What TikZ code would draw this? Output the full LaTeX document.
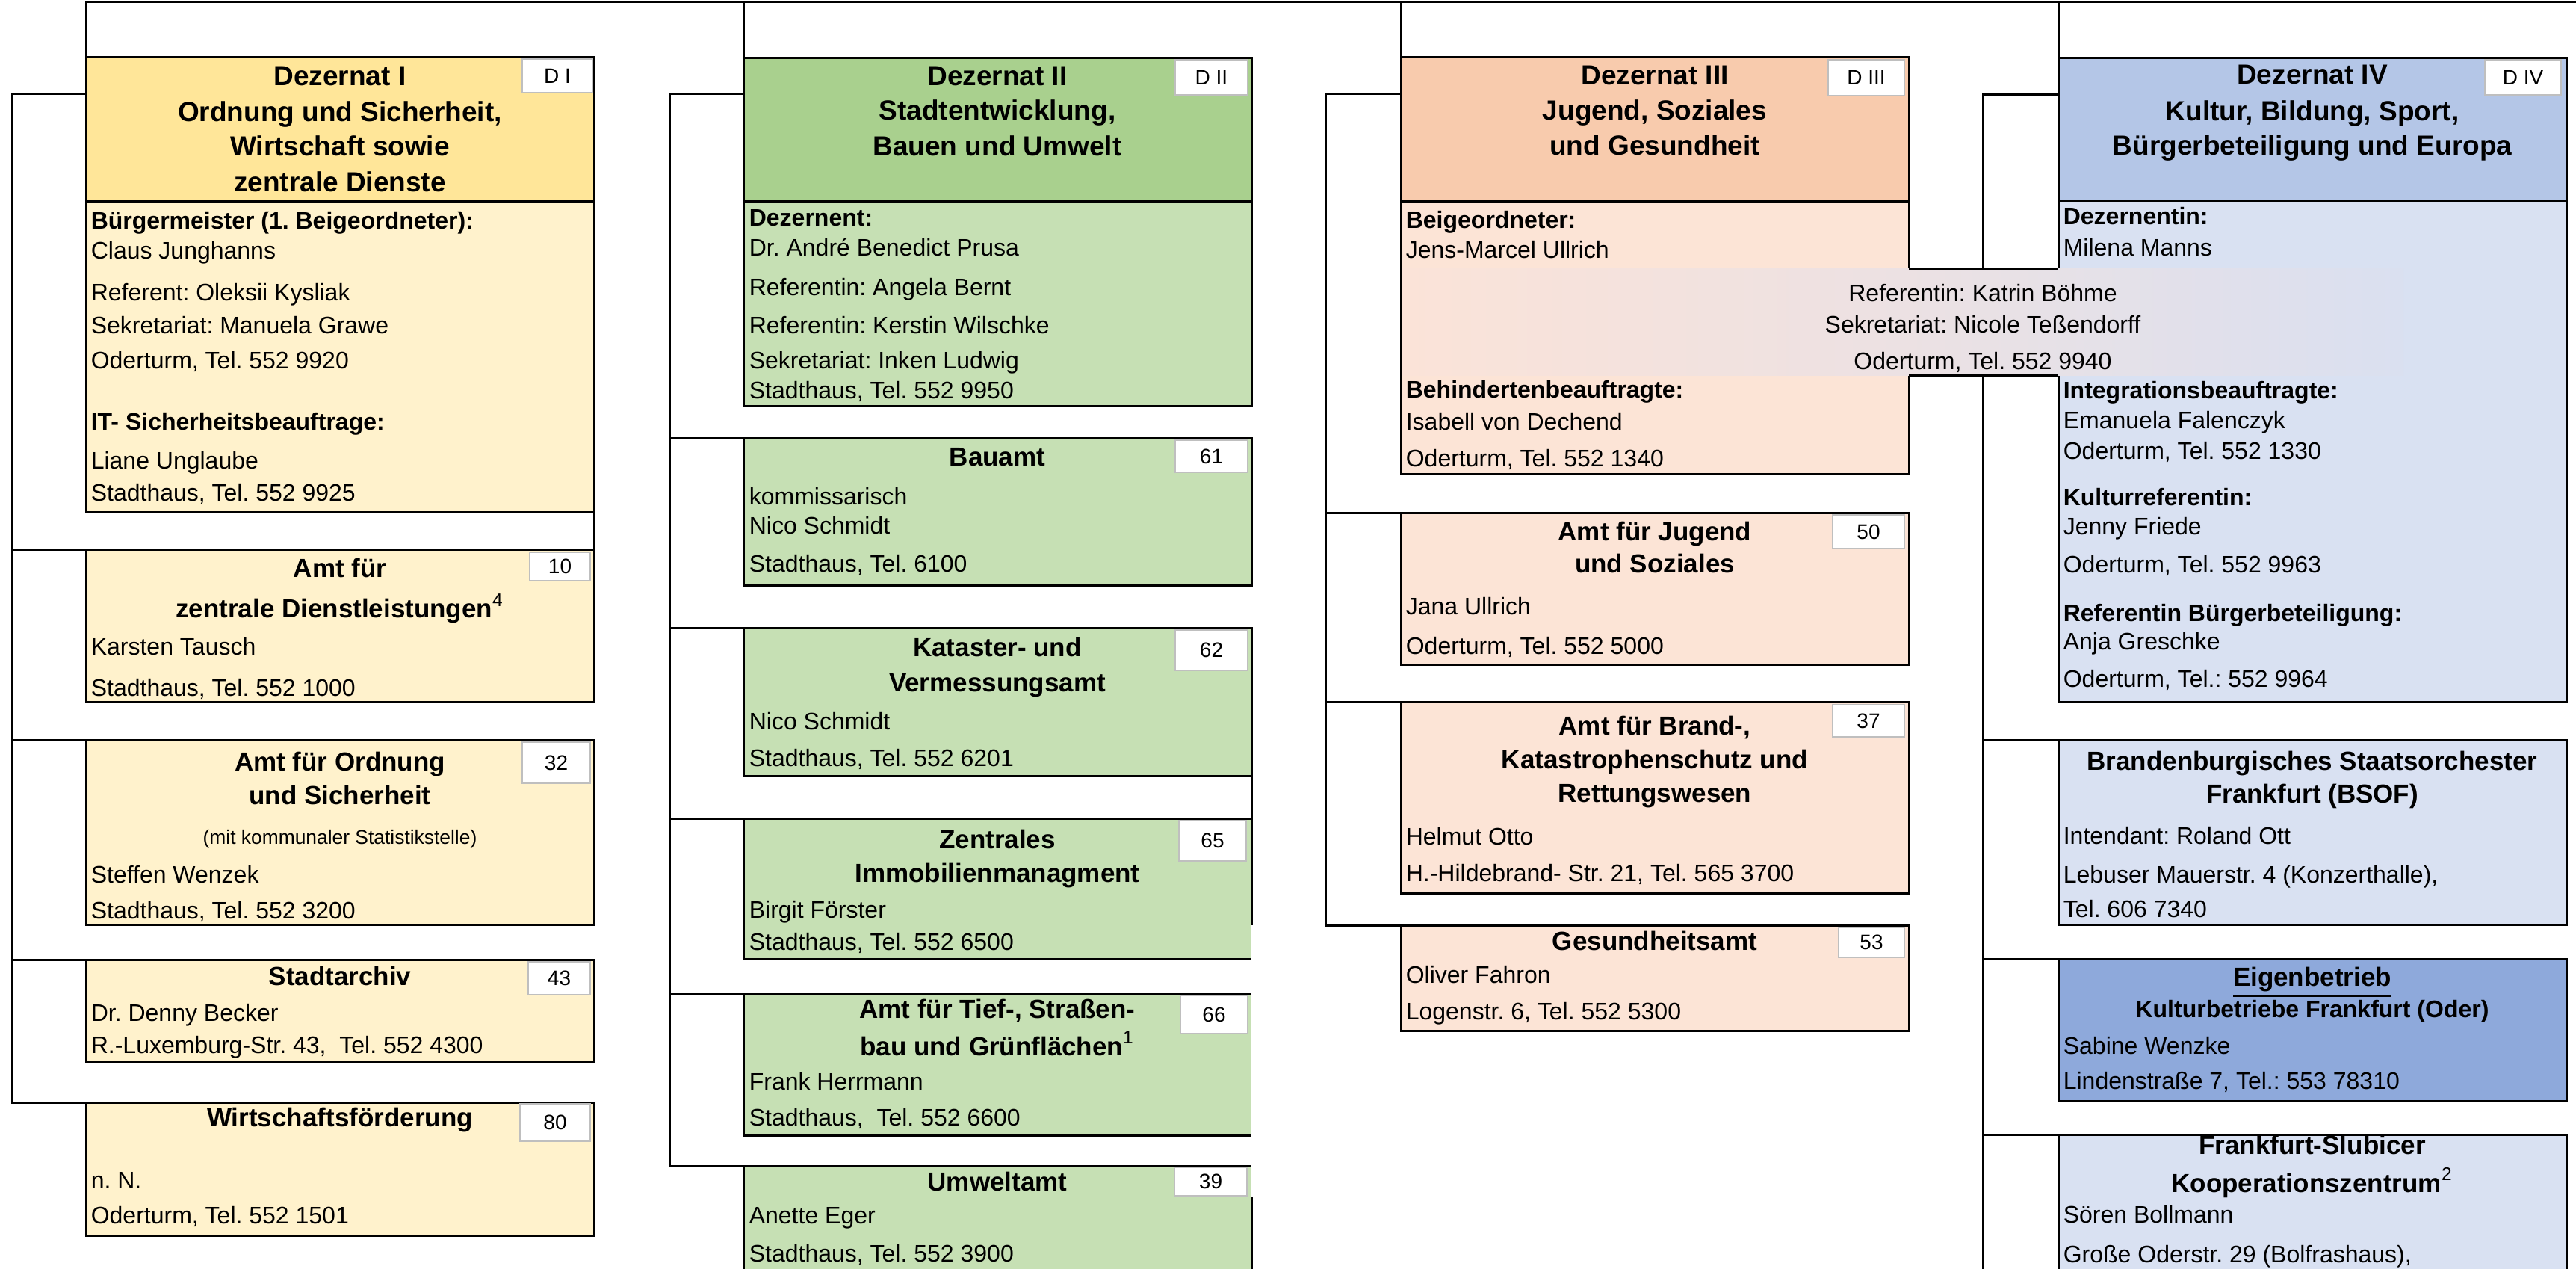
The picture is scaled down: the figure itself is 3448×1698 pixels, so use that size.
\documentclass[tikz,border=0pt]{standalone}
\usepackage{fontspec}
\setmainfont{Liberation Sans}
\frenchspacing
\definecolor{c1h}{HTML}{FFE699}
\definecolor{c1b}{HTML}{FFF2CC}
\definecolor{c2h}{HTML}{A9D08E}
\definecolor{c2b}{HTML}{C6E0B4}
\definecolor{c3h}{HTML}{F8CBAD}
\definecolor{c3b}{HTML}{FCE4D6}
\definecolor{c4h}{HTML}{B4C6E7}
\definecolor{c4b}{HTML}{D9E1F2}
\definecolor{c4e}{HTML}{8EA9DB}
\definecolor{bandL}{HTML}{FBE3D8}
\definecolor{bandM}{HTML}{ECE1E3}
\definecolor{bandR}{HTML}{DAE0F0}
\definecolor{lblgray}{HTML}{BFBFBF}
\tikzset{
  conn/.style={line width=0.75pt},
  boxf/.style={draw=black,line width=0.75pt,inner sep=0pt,outer sep=0pt,anchor=north west},
  lbl/.style={draw=lblgray,line width=0.4pt,fill=white,inner sep=0pt,outer sep=0pt,anchor=north west,font=\fontsize{7}{8}\selectfont},
  tl/.style={anchor=base west,inner sep=0pt,font=\fontsize{8}{9.6}\selectfont},
  tlb/.style={anchor=base west,inner sep=0pt,font=\fontsize{8}{9.6}\selectfont\bfseries},
  tc/.style={anchor=base,inner sep=0pt,font=\fontsize{8}{9.6}\selectfont},
  tcb/.style={anchor=base,inner sep=0pt,font=\fontsize{8}{9.6}\selectfont\bfseries},
  hd/.style={anchor=base,inner sep=0pt,font=\fontsize{9.25}{11}\selectfont\bfseries},
  ah/.style={anchor=base,inner sep=0pt,font=\fontsize{8.75}{10.5}\selectfont\bfseries},
  sm/.style={anchor=base,inner sep=0pt,font=\fontsize{6.6}{8}\selectfont},
}
\newcommand\bx[7][]{\node[boxf,fill=#7,minimum width={(#5-#3)*0.25pt},minimum height={(#6-#4)*0.25pt},#1] (#2) at (#3,#4) {};}
\newcommand\lb[6]{\node[lbl,minimum width={(#4-#2)*0.25pt},minimum height={(#5-#3)*0.25pt}] (#1) at (#2,#3) {#6};}
\begin{document}
\begin{tikzpicture}[x=0.25pt,y=-0.25pt]
\clip (0,0) rectangle (3448,1698);
\fill[white] (0,0) rectangle (3448,1698);
% ---------- boxes column 1
\bx{d1h}{115}{77}{795}{270}{c1h}
\bx{d1b}{115}{270}{795}{686}{c1b}
\bx{a10}{115}{736}{795}{940}{c1b}
\bx{a32}{115}{991}{795}{1238}{c1b}
\bx{a43}{115}{1285}{795}{1421}{c1b}
\bx{a80}{115}{1475}{795}{1653}{c1b}
% ---------- boxes column 2
\bx{d2h}{995}{78}{1675}{270}{c2h}
\bx{d2b}{995}{270}{1675}{544}{c2b}
\bx{a61}{995}{587}{1675}{784}{c2b}
\bx{a62}{995}{841}{1675}{1039}{c2b}
\bx[draw=none]{a65}{995}{1096}{1675}{1284}{c2b}
\bx[draw=none]{a66}{995}{1330}{1675}{1519}{c2b}
\bx[draw=none]{a39}{995}{1560}{1675}{1720}{c2b}
% ---------- boxes column 3
\bx{d3h}{1875}{77}{2555}{270}{c3h}
\bx{d3b}{1875}{270}{2555}{635}{c3b}
\bx{a50}{1875}{687}{2555}{890}{c3b}
\bx{a37}{1875}{940}{2555}{1196}{c3b}
\bx{a53}{1875}{1239}{2555}{1379}{c3b}
% ---------- boxes column 4
\bx{d4h}{2755}{78}{3435}{269}{c4h}
\bx{d4b}{2755}{269}{3435}{940}{c4b}
\bx{bsof}{2755}{991}{3435}{1238}{c4b}
\bx{eig}{2755}{1284}{3435}{1473}{c4e}
\bx{fsk}{2755}{1518}{3435}{1720}{c4b}
% ---------- connectors
\coordinate (top) at (3460,3);
\draw[conn] (d1h.north west) -- (d1h.north west |- top) -- (top);
\foreach \n in {d2h,d3h,d4h} \draw[conn] (\n.north west) -- (\n.north west |- top);
% column 1
\coordinate (b1) at (16,126);
\draw[conn] (d1h.north west |- b1) -- (b1) |- (a80.north west);
\foreach \n in {a10,a32,a43} \draw[conn] (\n.north west -| b1) -- (\n.north west);
\draw[conn] (d1b.south east) -- (a10.north east);
% column 2
\coordinate (b2) at (896,126);
\draw[conn] (d2h.north west |- b2) -- (b2) |- (a39.north west);
\foreach \n in {a61,a62,a65,a66} \draw[conn] (\n.north west -| b2) -- (\n.north west);
\draw[conn] (a62.south east) -- (a65.north east);
\draw[conn] (a65.north east) -- (a65.north west) -- (a65.south west) -- (a65.south east);
\draw[conn] (a65.north east) -- ++(0,142);
\draw[conn] (a66.north east) -- (a66.north west) -- (a66.south west) -- (a66.south east);
\draw[conn] (a39.south west) -- (a39.north west) -- (a39.north east);
\draw[conn] (a39.south east) -- ++(0,-119);
% column 3
\coordinate (b3) at (1774,126);
\draw[conn] (d3h.north west |- b3) -- (b3) |- (a53.north west);
\foreach \n in {a50,a37} \draw[conn] (\n.north west -| b3) -- (\n.north west);
% column 4
\coordinate (b4) at (2654,127);
\coordinate (bot) at (2654,1720);
\draw[conn] (d4h.north west |- b4) -- (b4) -- (bot);
\foreach \n in {bsof,eig,fsk} \draw[conn] (\n.north west -| b4) -- (\n.north west);
% ---------- labels
\lb{l1}{699}{79}{793}{124}{D I}
\lb{l10}{709}{739}{790}{777}{10}
\lb{l32}{699}{993}{790}{1048}{32}
\lb{l43}{707}{1287}{790}{1331}{43}
\lb{l80}{696}{1477}{790}{1527}{80}
\lb{l2}{1573}{80}{1670}{127}{D II}
\lb{l61}{1573}{589}{1670}{632}{61}
\lb{l62}{1573}{843}{1670}{897}{62}
\lb{l65}{1578}{1098}{1668}{1152}{65}
\lb{l66}{1580}{1332}{1670}{1383}{66}
\lb{l39}{1572}{1562}{1669}{1600}{39}
\lb{l3}{2447}{80}{2549}{128}{D III}
\lb{l50}{2453}{689}{2549}{734}{50}
\lb{l37}{2453}{943}{2549}{986}{37}
\lb{l53}{2461}{1241}{2549}{1281}{53}
\lb{l4}{3326}{80}{3428}{127}{D IV}
% ---------- shared band (Referentin / Sekretariat)
\node[inner sep=0pt,outer sep=0pt,anchor=north west,minimum width={1340*0.25pt},minimum height={143*0.25pt},left color=bandL,right color=bandR,middle color=bandM] (band) at (1877,360) {};
\draw[conn] (d3b.east |- band.north) -- (d4b.west |- band.north);
\draw[conn] (d3b.east |- band.south) -- (d4b.west |- band.south);
\node[tc] (tba) at (2654,404) {Referentin: Katrin Böhme};
\node[tc] (tbb) at (2654,446) {Sekretariat: Nicole Teßendorff};
\node[tc] (tbc) at (2654,495) {Oderturm, Tel. 552 9940};
% ---------- texts column 1
\node[hd] (t1a) at (455,115) {Dezernat I};
\node[hd] (t1b) at (455,163) {Ordnung und Sicherheit,};
\node[hd] (t1c) at (455,209) {Wirtschaft sowie};
\node[hd] (t1d) at (455,257) {zentrale Dienste};
\node[tlb] (t1e) at (121,307) {Bürgermeister (1. Beigeordneter):};
\node[tl] (t1f) at (121,347) {Claus Junghanns};
\node[tl] (t1g) at (121,403) {Referent: Oleksii Kysliak};
\node[tl] (t1h) at (121,447) {Sekretariat: Manuela Grawe};
\node[tl] (t1i) at (121,494) {Oderturm, Tel. 552 9920};
\node[tlb] (t1j) at (121,576) {IT- Sicherheitsbeauftrage:};
\node[tl] (t1k) at (121,628) {Liane Unglaube};
\node[tl] (t1l) at (121,671) {Stadthaus, Tel. 552 9925};
\node[ah] (t10a) at (455,773) {Amt für};
\node[ah] (t10b) at (455,827) {zentrale Dienstleistungen\textsuperscript{\mdseries 4}};
\node[tl] (t10c) at (121,877) {Karsten Tausch};
\node[tl] (t10d) at (121,932) {Stadthaus, Tel. 552 1000};
\node[ah] (t32a) at (455,1032) {Amt für Ordnung};
\node[ah] (t32b) at (455,1077) {und Sicherheit};
\node[sm] (t32c) at (455,1130) {(mit kommunaler Statistikstelle)};
\node[tl] (t32d) at (121,1182) {Steffen Wenzek};
\node[tl] (t32e) at (121,1230) {Stadthaus, Tel. 552 3200};
\node[ah] (t43a) at (455,1319) {Stadtarchiv};
\node[tl] (t43b) at (121,1366) {Dr. Denny Becker};
\node[tl] (t43c) at (121,1409) {R.-Luxemburg-Str. 43,\ \ Tel. 552 4300};
\node[ah] (t80a) at (455,1507) {Wirtschaftsförderung};
\node[tl] (t80b) at (121,1590) {n. N.};
\node[tl] (t80c) at (121,1637) {Oderturm, Tel. 552 1501};
% ---------- texts column 2
\node[hd] (t2a) at (1335,115) {Dezernat II};
\node[hd] (t2b) at (1335,161) {Stadtentwicklung,};
\node[hd] (t2c) at (1335,209) {Bauen und Umwelt};
\node[tlb] (t2d) at (1002,303) {Dezernent:};
\node[tl] (t2e) at (1002,343) {Dr. André Benedict Prusa};
\node[tl] (t2f) at (1002,396) {Referentin: Angela Bernt};
\node[tl] (t2g) at (1002,447) {Referentin: Kerstin Wilschke};
\node[tl] (t2h) at (1002,494) {Sekretariat: Inken Ludwig};
\node[tl] (t2i) at (1002,534) {Stadthaus, Tel. 552 9950};
\node[ah] (t61a) at (1335,624) {Bauamt};
\node[tl] (t61b) at (1002,676) {kommissarisch};
\node[tl] (t61c) at (1002,715) {Nico Schmidt};
\node[tl] (t61d) at (1002,766) {Stadthaus, Tel. 6100};
\node[ah] (t62a) at (1335,879) {Kataster- und};
\node[ah] (t62b) at (1335,926) {Vermessungsamt};
\node[tl] (t62c) at (1002,977) {Nico Schmidt};
\node[tl] (t62d) at (1002,1026) {Stadthaus, Tel. 552 6201};
\node[ah] (t65a) at (1335,1136) {Zentrales};
\node[ah] (t65b) at (1335,1181) {Immobilienmanagment};
\node[tl] (t65c) at (1002,1229) {Birgit Förster};
\node[tl] (t65d) at (1002,1272) {Stadthaus, Tel. 552 6500};
\node[ah] (t66a) at (1335,1363) {Amt für Tief-, Straßen-};
\node[ah] (t66b) at (1335,1412) {bau und Grünflächen\textsuperscript{\mdseries 1}};
\node[tl] (t66c) at (1002,1458) {Frank Herrmann};
\node[tl] (t66d) at (1002,1506) {Stadthaus,\ \ Tel. 552 6600};
\node[ah] (t39a) at (1335,1593) {Umweltamt};
\node[tl] (t39b) at (1002,1637) {Anette Eger};
\node[tl] (t39c) at (1002,1688) {Stadthaus, Tel. 552 3900};
% ---------- texts column 3
\node[hd] (t3a) at (2215,114) {Dezernat III};
\node[hd] (t3b) at (2215,161) {Jugend, Soziales};
\node[hd] (t3c) at (2215,208) {und Gesundheit};
\node[tlb] (t3d) at (1881,306) {Beigeordneter:};
\node[tl] (t3e) at (1881,346) {Jens-Marcel Ullrich};
\node[tlb] (t3f) at (1881,533) {Behindertenbeauftragte:};
\node[tl] (t3g) at (1881,576) {Isabell von Dechend};
\node[tl] (t3h) at (1881,625) {Oderturm, Tel. 552 1340};
\node[ah] (t50a) at (2215,724) {Amt für Jugend};
\node[ah] (t50b) at (2215,767) {und Soziales};
\node[tl] (t50c) at (1881,823) {Jana Ullrich};
\node[tl] (t50d) at (1881,876) {Oderturm, Tel. 552 5000};
\node[ah] (t37a) at (2215,984) {Amt für Brand-,};
\node[ah] (t37b) at (2215,1029) {Katastrophenschutz und};
\node[ah] (t37c) at (2215,1074) {Rettungswesen};
\node[tl] (t37d) at (1881,1131) {Helmut Otto};
\node[tl] (t37e) at (1881,1180) {H.-Hildebrand- Str. 21, Tel. 565 3700};
\node[ah] (t53a) at (2215,1272) {Gesundheitsamt};
\node[tl] (t53b) at (1881,1316) {Oliver Fahron};
\node[tl] (t53c) at (1881,1365) {Logenstr. 6, Tel. 552 5300};
% ---------- texts column 4
\node[hd] (t4a) at (3095,113) {Dezernat IV};
\node[hd] (t4b) at (3095,162) {Kultur, Bildung, Sport,};
\node[hd] (t4c) at (3095,208) {Bürgerbeteiligung und Europa};
\node[tlb] (t4d) at (2761,301) {Dezernentin:};
\node[tl] (t4e) at (2761,343) {Milena Manns};
\node[tlb] (t4f) at (2761,534) {Integrationsbeauftragte:};
\node[tl] (t4g) at (2761,574) {Emanuela Falenczyk};
\node[tl] (t4h) at (2761,615) {Oderturm, Tel. 552 1330};
\node[tlb] (t4i) at (2761,677) {Kulturreferentin:};
\node[tl] (t4j) at (2761,716) {Jenny Friede};
\node[tl] (t4k) at (2761,767) {Oderturm, Tel. 552 9963};
\node[tlb] (t4l) at (2761,832) {Referentin Bürgerbeteiligung:};
\node[tl] (t4m) at (2761,870) {Anja Greschke};
\node[tl] (t4n) at (2761,920) {Oderturm, Tel.: 552 9964};
\node[ah] (tsa) at (3095,1031) {Brandenburgisches Staatsorchester};
\node[ah] (tsb) at (3095,1075) {Frankfurt (BSOF)};
\node[tl] (tsc) at (2761,1130) {Intendant: Roland Ott};
\node[tl] (tsd) at (2761,1182) {Lebuser Mauerstr. 4 (Konzerthalle),};
\node[tl] (tse) at (2761,1228) {Tel. 606 7340};
\node[ah] (tea) at (3095,1320) {\underline{Eigenbetrieb}};
\node[tcb] (teb) at (3095,1361) {Kulturbetriebe Frankfurt (Oder)};
\node[tl] (tec) at (2761,1410) {Sabine Wenzke};
\node[tl] (ted) at (2761,1457) {Lindenstraße 7, Tel.: 553 78310};
\node[ah] (tfa) at (3095,1544) {Frankfurt-Slubicer};
\node[ah] (tfb) at (3095,1595) {Kooperationszentrum\textsuperscript{\mdseries 2}};
\node[tl] (tfc) at (2761,1636) {Sören Bollmann};
\node[tl] (tfd) at (2761,1689) {Große Oderstr. 29 (Bolfrashaus),};
\end{tikzpicture}
\end{document}
